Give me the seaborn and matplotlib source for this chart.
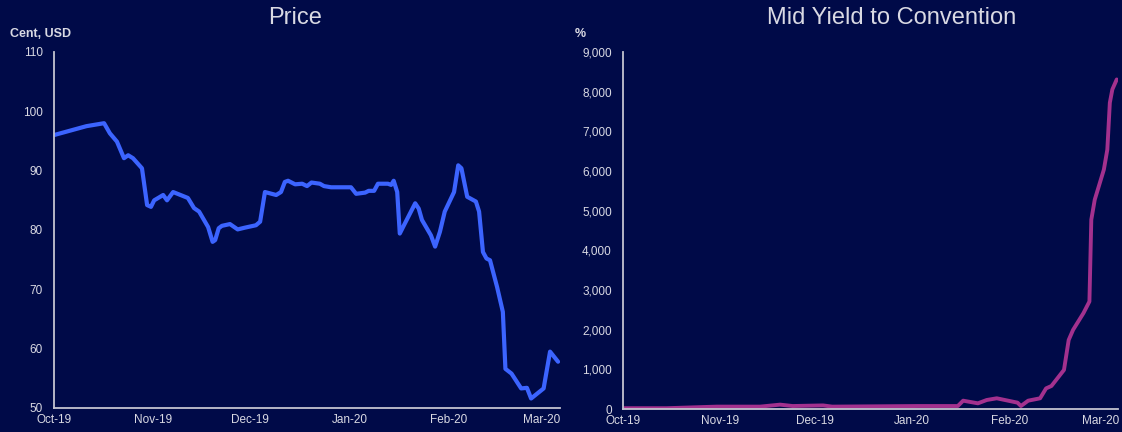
import matplotlib
matplotlib.use("Agg")
import matplotlib.pyplot as plt
import matplotlib.dates as mdates
from matplotlib.ticker import MultipleLocator, StrMethodFormatter
import pandas as pd
import seaborn as sns

# days after 1 Oct 2019
price_day = [0, 10.1, 15.6, 17.4, 19.6, 21.8, 23.1, 24.6, 27.4, 29.0,
             30.2, 31.2, 34.0, 35.2, 37.1, 41.7, 43.6, 45.2, 48.0, 49.4,
             50.2, 51.3, 52.3, 54.8, 57.2, 59.5, 62.9, 64.2, 65.7, 69.2,
             70.7, 71.9, 72.9, 75.1, 77.3, 78.8, 80.2, 82.8, 84.1, 86.3,
             92.5, 94.1, 96.9, 98.0, 99.7, 100.9, 104.0, 105.0, 105.8, 106.9,
             107.7, 109.0, 112.5, 113.6, 114.6, 117.4, 118.7, 120.2, 121.7, 124.6,
             125.9, 126.9, 128.7, 131.4, 132.4, 133.6, 134.7, 135.8, 138.0, 139.8,
             140.6, 142.5, 145.5, 147.3, 148.6, 152.5, 154.5, 157.0]
price = [96.0, 97.5, 98.0, 96.3, 94.9, 92.1, 92.6, 92.1, 90.4, 84.2,
         83.9, 85.0, 85.9, 85.0, 86.4, 85.4, 83.7, 83.1, 80.5, 78.0,
         78.3, 80.3, 80.7, 81.0, 80.1, 80.4, 80.8, 81.4, 86.4, 85.9,
         86.4, 88.1, 88.3, 87.7, 87.8, 87.4, 88.0, 87.8, 87.4, 87.2,
         87.2, 86.1, 86.3, 86.6, 86.6, 87.8, 87.8, 87.6, 88.3, 86.4,
         79.4, 80.8, 84.5, 83.6, 81.7, 79.1, 77.2, 79.7, 83.1, 86.4,
         90.9, 90.4, 85.6, 84.8, 83.1, 76.3, 75.2, 74.9, 70.4, 66.2,
         56.6, 55.8, 53.3, 53.4, 51.6, 53.3, 59.5, 57.8]

yield_day = [0, 13.9, 29.9, 43.7, 50.0, 54.0, 63.7, 66.6, 94.1, 106.6,
             108.3, 113.0, 115.8, 119.0, 125.6, 126.7, 129.0, 132.8, 134.7, 136.4,
             140.4, 141.9, 143.3, 146.6, 148.5, 149.1, 150.2, 153.1, 154.2, 155.0,
             155.8, 157.2]
mid_yield = [20, 20, 60, 60, 110, 75, 90, 60, 75, 75,
             210, 143, 227, 270, 160, 75, 210, 270, 520, 580,
             985, 1740, 1995, 2417, 2710, 4773, 5278, 6035, 6540, 7720,
             8056, 8308]

start = pd.Timestamp("2019-10-01")
price_dates = start + pd.to_timedelta(price_day, unit="D")
yield_dates = start + pd.to_timedelta(yield_day, unit="D")
x_end = start + pd.to_timedelta(157.6, unit="D")

bg = "#000a48"
fg = "#d9d9e3"
axis_col = "#c4c4d0"

sns.set_style("white", {"axes.facecolor": bg, "figure.facecolor": bg})
plt.rcParams["font.family"] = ["Liberation Sans", "DejaVu Sans"]

fig = plt.figure(figsize=(11.22, 4.32), dpi=100)
ax1 = fig.add_axes([54 / 1122, 1 - 408 / 432, 506 / 1122, 356 / 432])
ax2 = fig.add_axes([623 / 1122, 1 - 409 / 432, 495 / 1122, 357 / 432])

sns.lineplot(x=price_dates, y=price, ax=ax1, color="#3c64ff", linewidth=3.0,
             solid_joinstyle="round", solid_capstyle="round")
sns.lineplot(x=yield_dates, y=mid_yield, ax=ax2, color="#a3318e", linewidth=2.8,
             solid_joinstyle="round", solid_capstyle="round")

ax1.set_ylim(50, 110)
ax1.yaxis.set_major_locator(MultipleLocator(10))
ax2.set_ylim(0, 9000)
ax2.yaxis.set_major_locator(MultipleLocator(1000))
ax2.yaxis.set_major_formatter(StrMethodFormatter("{x:,.0f}"))

for ax in (ax1, ax2):
    ax.set_facecolor(bg)
    ax.set_xlim(start, x_end)
    ax.xaxis.set_major_locator(mdates.MonthLocator())
    ax.xaxis.set_major_formatter(mdates.DateFormatter("%b-%y"))
    ax.set_xlabel("")
    ax.set_ylabel("")
    ax.grid(False)
    for side in ("top", "right"):
        ax.spines[side].set_visible(False)
    for side in ("left", "bottom"):
        ax.spines[side].set_color(axis_col)
        ax.spines[side].set_linewidth(1.3)
    ax.tick_params(axis="both", length=0, colors=fg, labelsize=8.5)
    ax.tick_params(axis="y", pad=8)
    ax.tick_params(axis="x", pad=4)

fig.text(295 / 1122, 1 - 18 / 432, "Price", color=fg, fontsize=17,
         ha="center", va="center")
fig.text(892 / 1122, 1 - 18 / 432, "Mid Yield to Convention", color=fg,
         fontsize=17, ha="center", va="center")
fig.text(10 / 1122, 1 - 34 / 432, "Cent, USD", color=fg, fontsize=9,
         fontweight="bold", ha="left", va="center")
fig.text(575 / 1122, 1 - 34 / 432, "%", color=fg, fontsize=9,
         fontweight="bold", ha="left", va="center")

fig.savefig("out.png", dpi=100, facecolor=bg)
